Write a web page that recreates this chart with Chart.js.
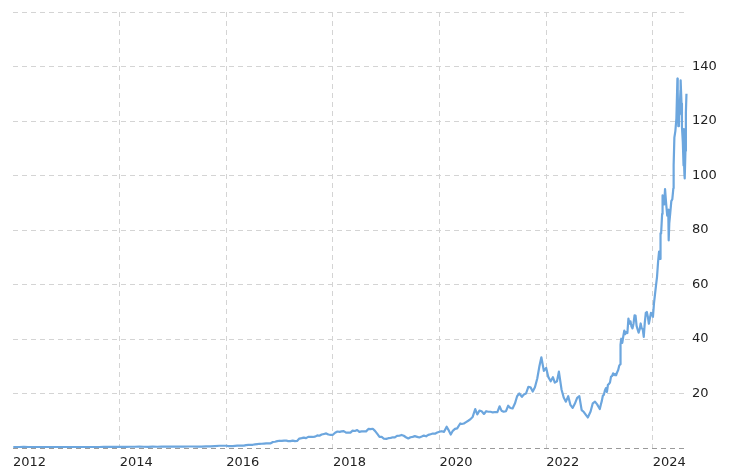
<!DOCTYPE html>
<html>
<head>
<meta charset="utf-8">
<script src="https://cdn.jsdelivr.net/npm/chart.js@4.4.1/dist/chart.umd.min.js"></script>
<style>
  html, body { margin: 0; padding: 0; background: #fff; }
  #wrap { width: 732px; height: 475px; }
</style>
</head>
<body>
<div id="wrap"><canvas id="priceChart" width="732" height="475"></canvas></div>
<script>
// *** price history (split adjusted) ***
var dates = [
    '2012-01-03','2012-02-15','2012-03-15','2012-04-15','2012-05-15','2012-06-15','2012-07-15','2012-08-15','2012-09-15','2012-10-15','2012-11-15','2012-12-15',
    '2013-01-15','2013-02-15','2013-03-15','2013-04-15','2013-05-15','2013-06-15','2013-07-15','2013-08-15','2013-09-15','2013-10-15','2013-11-15','2013-12-15',
    '2014-01-15','2014-02-15','2014-03-15','2014-04-15','2014-05-15','2014-06-15','2014-07-15','2014-08-15','2014-09-15','2014-10-15','2014-11-15','2014-12-15',
    '2015-01-15','2015-02-15','2015-03-15','2015-04-15','2015-05-15','2015-06-15','2015-07-15','2015-08-15','2015-09-15','2015-10-15','2015-11-15','2015-12-15',
    '2016-01-01','2016-01-16','2016-02-01','2016-02-16','2016-03-01','2016-03-16','2016-04-01','2016-04-16','2016-05-01','2016-05-16','2016-06-01','2016-06-16',
    '2016-07-01','2016-07-16','2016-08-01','2016-08-16','2016-09-01','2016-09-16','2016-10-01','2016-10-16','2016-11-01','2016-11-16','2016-12-01','2016-12-16',
    '2017-01-01','2017-01-16','2017-02-01','2017-02-16','2017-03-01','2017-03-16','2017-04-01','2017-04-16','2017-05-01','2017-05-16','2017-06-01','2017-06-16',
    '2017-07-01','2017-07-16','2017-08-01','2017-08-16','2017-09-01','2017-09-16','2017-10-01','2017-10-16','2017-11-01','2017-11-16','2017-12-01','2017-12-16',
    '2018-01-01','2018-01-16','2018-02-01','2018-02-16','2018-03-01','2018-03-16','2018-04-01','2018-04-16','2018-05-01','2018-05-16','2018-06-01','2018-06-16',
    '2018-07-01','2018-07-16','2018-08-01','2018-08-16','2018-09-01','2018-09-16','2018-10-01','2018-10-16','2018-11-01','2018-11-16','2018-12-01','2018-12-16',
    '2019-01-01','2019-01-16','2019-02-01','2019-02-16','2019-03-01','2019-03-16','2019-04-01','2019-04-16','2019-05-01','2019-05-16','2019-06-01','2019-06-16',
    '2019-07-01','2019-07-16','2019-08-01','2019-08-16','2019-09-01','2019-09-16','2019-10-01','2019-10-16','2019-11-01','2019-11-16','2019-12-01','2019-12-16',
    '2020-01-01','2020-01-16','2020-02-01','2020-02-19','2020-03-01','2020-03-18','2020-04-01','2020-04-16','2020-05-01','2020-05-22','2020-06-01','2020-06-16',
    '2020-07-01','2020-07-16','2020-08-01','2020-08-16','2020-09-02','2020-09-16','2020-10-01','2020-10-16','2020-11-01','2020-11-16','2020-12-01','2020-12-16',
    '2021-01-01','2021-01-16','2021-02-01','2021-02-16','2021-03-01','2021-03-16','2021-04-01','2021-04-16','2021-05-01','2021-05-16','2021-06-01','2021-06-16',
    '2021-07-01','2021-07-19','2021-08-01','2021-08-16','2021-09-01','2021-09-16','2021-10-01','2021-10-16','2021-11-01','2021-11-16','2021-11-29','2021-12-16',
    '2022-01-01','2022-01-16','2022-02-01','2022-02-16','2022-03-01','2022-03-16','2022-03-29','2022-04-16','2022-05-01','2022-05-16','2022-06-01','2022-06-16',
    '2022-07-01','2022-07-16','2022-08-01','2022-08-16','2022-09-01','2022-09-16','2022-10-01','2022-10-13','2022-11-01','2022-11-16','2022-12-01','2022-12-16',
    '2023-01-03','2023-01-10','2023-01-17','2023-01-24','2023-01-31','2023-02-07','2023-02-14','2023-02-21','2023-02-28','2023-03-07','2023-03-14','2023-03-21',
    '2023-03-28','2023-04-04','2023-04-11','2023-04-18','2023-04-25','2023-05-02','2023-05-09','2023-05-16','2023-05-23','2023-05-25','2023-05-30','2023-06-06',
    '2023-06-13','2023-06-20','2023-06-27','2023-07-04','2023-07-11','2023-07-18','2023-07-25','2023-08-01','2023-08-08','2023-08-15','2023-08-22','2023-08-29',
    '2023-09-05','2023-09-12','2023-09-19','2023-09-26','2023-10-03','2023-10-10','2023-10-17','2023-10-24','2023-10-31','2023-11-07','2023-11-14','2023-11-21',
    '2023-11-28','2023-12-05','2023-12-12','2023-12-19','2023-12-26',
    '2024-01-02','2024-01-09','2024-01-16','2024-01-23','2024-01-30','2024-02-06','2024-02-13','2024-02-20','2024-02-23','2024-02-27','2024-03-05','2024-03-08',
    '2024-03-12','2024-03-19','2024-03-25','2024-04-02','2024-04-09','2024-04-16','2024-04-19','2024-04-23','2024-04-30','2024-05-07','2024-05-14','2024-05-21',
    '2024-05-23','2024-05-28','2024-06-04','2024-06-11','2024-06-18','2024-06-20','2024-06-24','2024-06-28','2024-07-02','2024-07-09','2024-07-10','2024-07-16',
    '2024-07-19','2024-07-25','2024-07-30','2024-07-31','2024-08-02','2024-08-05','2024-08-07','2024-08-12','2024-08-15','2024-08-19'
];

var prices = [
    0.33, 0.37, 0.38, 0.32, 0.31, 0.33, 0.32, 0.35, 0.34, 0.30, 0.30, 0.31,
    0.31, 0.31, 0.32, 0.33, 0.36, 0.35, 0.35, 0.36, 0.38, 0.38, 0.38, 0.40,
    0.40, 0.44, 0.45, 0.46, 0.48, 0.46, 0.44, 0.48, 0.46, 0.47, 0.50, 0.50,
    0.50, 0.55, 0.52, 0.55, 0.55, 0.50, 0.50, 0.56, 0.62, 0.71, 0.83, 0.82,
    0.82, 0.66, 0.74, 0.70, 0.80, 0.84, 0.89, 0.91, 0.88, 1.06, 1.17, 1.16,
    1.18, 1.33, 1.45, 1.55, 1.56, 1.64, 1.72, 1.70, 1.72, 2.20, 2.30, 2.50,
    2.67, 2.60, 2.73, 2.68, 2.53, 2.51, 2.72, 2.55, 2.60, 3.45, 3.60, 3.80,
    3.60, 4.10, 4.05, 4.05, 4.18, 4.60, 4.50, 4.95, 5.15, 5.35, 4.95, 4.85,
    4.84, 5.60, 6.05, 5.90, 6.10, 6.20, 5.65, 5.65, 5.65, 6.35, 6.25, 6.60,
    5.92, 6.10, 6.15, 6.10, 7.00, 6.90, 7.05, 6.30, 5.20, 4.10, 4.10, 3.40,
    3.34, 3.60, 3.70, 3.95, 3.90, 4.45, 4.50, 4.80, 4.50, 3.95, 3.50, 3.95,
    4.10, 4.35, 4.10, 3.85, 4.20, 4.55, 4.30, 4.80, 5.05, 5.30, 5.25, 5.70,
    5.99, 6.16, 5.93, 7.80, 6.75, 4.95, 6.30, 7.00, 7.20, 9.00, 8.80, 9.00,
    9.50, 10.0, 10.6, 11.5, 14.3, 12.3, 13.7, 13.5, 12.5, 13.5, 13.3, 13.3,
    13.05, 13.2, 13.2, 15.3, 13.7, 13.3, 13.5, 15.5, 14.7, 14.5, 16.3, 19.0,
    20.0, 18.8, 19.6, 20.0, 22.4, 22.3, 20.7, 22.3, 25.5, 30.1, 33.3, 28.3,
    29.4, 26.0, 24.5, 26.0, 24.0, 24.5, 28.0, 21.5, 18.5, 17.0, 19.0, 15.8,
    14.7, 16.2, 18.4, 19.0, 13.9, 13.2, 12.1, 11.2, 13.4, 16.4, 17.0, 16.0,
    14.3, 15.9, 17.3, 19.2, 19.5, 21.1, 22.0, 20.6, 23.2, 23.5, 24.1, 26.2,
    26.4, 27.4, 26.8, 27.2, 26.7, 27.8, 28.6, 30.2, 30.7, 37.9, 40.1, 38.6,
    41.0, 43.1, 41.8, 42.5, 42.2, 47.5, 45.6, 46.5, 44.6, 43.9, 45.6, 48.7,
    48.5, 44.8, 43.5, 42.3, 43.5, 45.7, 43.9, 43.6, 40.8, 45.9, 49.6, 49.9,
    48.2, 45.6, 47.6, 49.6, 49.3,
    48.1, 53.1, 56.4, 59.7, 62.8, 68.2, 72.1, 69.4, 78.8, 78.7, 85.9, 92.7,
    91.9, 89.4, 95.0, 89.4, 85.3, 87.4, 76.2, 82.4, 86.4, 90.6, 91.3, 95.3,
    103.8, 113.9, 116.4, 121.0, 135.6, 130.8, 118.1, 123.5, 122.4, 131.4, 134.9, 126.4,
    117.9, 112.3, 103.7, 117.0, 107.3, 100.5, 98.9, 109.0, 122.9, 130.0
];

var xTickYears = [2012, 2014, 2016, 2018, 2020, 2022, 2024];
var yTickValues = [0, 20, 40, 60, 80, 100, 120, 140, 160];

// date string -> fractional year, for the linear x scale
function toYear(s) {
    var p = s.split('-').map(Number);
    var start = Date.UTC(p[0], 0, 1);
    var end = Date.UTC(p[0] + 1, 0, 1);
    return p[0] + (Date.UTC(p[0], p[1] - 1, p[2]) - start) / (end - start);
}

var points = dates.map(function (d, i) {
    return { x: toYear(d), y: prices[i] };
});

var ctx = document.getElementById('priceChart').getContext('2d');
var gridGray = '#d4d4d4';
var zeroGray = '#9a9a9a';
var clear = 'rgba(0,0,0,0)';

var priceChart = new Chart(ctx, {
    type: 'line',
    data: {
        datasets: [{
            data: points,
            borderColor: 'rgb(108, 166, 222)',
            borderWidth: 2.2,
            borderJoinStyle: 'round',
            pointRadius: 0,
            tension: 0,
            fill: false
        }]
    },
    options: {
        responsive: false,
        animation: false,
        layout: { padding: { left: 13, top: 12, right: 0, bottom: 0 } },
        plugins: {
            legend: { display: false },
            tooltip: { enabled: false }
        },
        scales: {
            x: {
                type: 'linear',
                min: 2012,
                max: 2024.66,
                afterBuildTicks: function (scale) {
                    scale.ticks = xTickYears.map(function (v) { return { value: v }; });
                },
                afterFit: function (scale) { scale.height = 27; },
                ticks: {
                    align: 'start',
                    maxRotation: 0,
                    autoSkip: false,
                    padding: 7,
                    color: '#222',
                    font: { family: 'DejaVu Sans', size: 13 },
                    callback: function (v) { return String(v); }
                },
                grid: {
                    drawTicks: false,
                    color: function (c) { return c.tick && c.tick.value === 2012 ? clear : gridGray; }
                },
                border: { display: false, dash: [5, 4] } // dash here = grid line dash in v4
            },
            y: {
                position: 'right',
                min: 0,
                max: 160,
                afterBuildTicks: function (scale) {
                    scale.ticks = yTickValues.map(function (v) { return { value: v }; });
                },
                afterFit: function (scale) { scale.width = 44; },
                ticks: {
                    padding: 4,
                    color: '#222',
                    font: { family: 'DejaVu Sans', size: 13 },
                    callback: function (v) { return (v === 0 || v === 160) ? '' : String(v); }
                },
                grid: {
                    drawTicks: false,
                    // zero line darker, stands in for the dashed x axis
                    color: function (c) { return c.tick && c.tick.value === 0 ? zeroGray : gridGray; }
                },
                border: { display: false, dash: [5, 4] }
            }
        }
    }
});
</script>
</body>
</html>
